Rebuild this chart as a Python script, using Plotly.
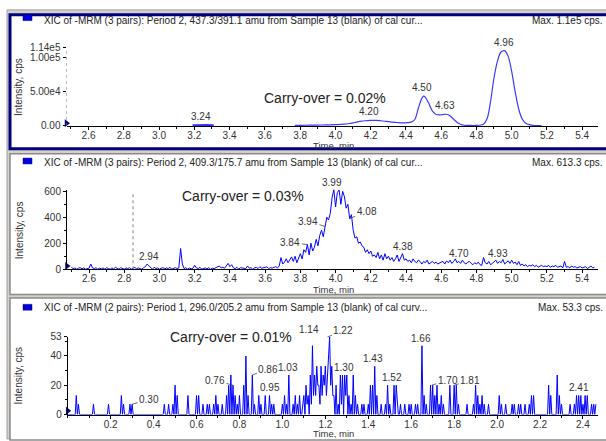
import plotly.graph_objects as go

W, H = 606, 441

# ---------------- data ----------------
# Panel 1: 437.3/391.1 (time in min, intensity in cps)
top_seg_time = [3.19, 3.22, 3.24, 3.27, 3.31]
top_seg_cps = [700, 1200, 1400, 1000, 600]
top_time = [3.77, 3.80, 3.85, 3.90, 3.95, 4.00, 4.05, 4.08, 4.11, 4.14, 4.17, 4.20, 4.23, 4.26,
            4.29, 4.32, 4.35, 4.38, 4.41, 4.43, 4.45, 4.47, 4.49, 4.50, 4.51, 4.53, 4.55, 4.57,
            4.59, 4.61, 4.63, 4.65, 4.67, 4.69, 4.71, 4.73, 4.76, 4.80, 4.84, 4.86, 4.88, 4.90,
            4.92, 4.94, 4.96, 4.98, 5.00, 5.02, 5.04, 5.06, 5.08, 5.10, 5.12, 5.15, 5.17]
top_cps = [800, 900, 1000, 1200, 1500, 1800, 2500, 3500, 5000, 6500, 7500, 8000, 8200, 7500,
           6500, 5500, 5000, 4500, 4800, 5500, 9000, 25000, 40000, 43500, 42000, 33000, 22000, 17000,
           16000, 16500, 17000, 15000, 10000, 5500, 2500, 1000, 700, 800, 2500, 10000, 35000, 70000,
           95000, 108000, 110000, 102000, 80000, 50000, 25000, 10000, 4000, 1800, 900, 500, 400]

# Panel 2: 409.3/175.7, sampled every 0.01 min from 2.50 min
mid_t0 = 2.50
mid_step = 0.01
mid_cps = [
    15, 5, 10, 0, 8, 12, 3, 10, 0, 5,
    8, 40, 10, 5, 12, 0, 8, 3, 10, 0,
    12, 5, 0, 10, 3, 15, 5, 0, 12, 8,
    0, 10, 5, 12, 0, 8, 15, 3, 10, 5,
    0, 12, 20, 40, 25, 10, 0, 15, 5, 10,
    0, 8, 12, 3, 10, 5, 15, 0, 8, 12,
    5, 10, 160, 40, 5, 12, 0, 10, 3, 8,
    30, 10, 5, 15, 0, 8, 10, 3, 12, 0,
    8, 5, 12, 20, 25, 10, 15, 8, 30, 45,
    20, 35, 10, 5, 15, 0, 12, 8, 10, 5,
    25, 8, 12, 0, 10, 15, 5, 20, 8, 12,
    10, 18, 5, 12, 8, 15, 20, 10, 25, 90,
    40, 55, 80, 50, 70, 95, 60, 100, 50, 80,
    120, 80, 150, 130, 190, 110, 200, 140, 170, 230,
    180, 260, 300, 250, 330, 400, 380, 430, 550, 613,
    480, 590, 610, 500, 600, 560, 470, 500, 390, 420,
    300, 240, 250, 200, 210, 180, 170, 130, 150, 120,
    140, 100, 110, 90, 130, 80, 110, 70, 120, 80,
    100, 70, 90, 60, 80, 110, 60, 90, 120, 70,
    80, 60, 70, 50, 80, 60, 50, 70, 60, 40,
    60, 50, 70, 40, 50, 60, 45, 55, 40, 50,
    55, 60, 40, 65, 50, 70, 45, 60, 80, 50,
    60, 45, 70, 50, 40, 55, 60, 45, 35, 50,
    40, 55, 35, 30, 90, 50, 40, 60, 35, 45,
    55, 70, 45, 60, 50, 75, 40, 55, 65, 45,
    70, 45, 55, 35, 60, 30, 40, 25, 35, 20,
    30, 25, 35, 20, 30, 15, 25, 30, 20, 25,
    20, 30, 15, 25, 20, 30, 15, 20, 25, 10,
    60, 15, 20, 10, 25, 15, 20, 10, 15, 20,
    10, 15, 20, 5, 15, 25, 10, 15,
]

# Panel 3: 296.0/205.2, sampled every 0.005 min from 0 min
bot_t0 = 0.0
bot_step = 0.005
bot_cps = [
    0, 0, 0, 0, 0, 0, 0, 0, 13, 0, 7, 0, 0, 0, 0, 0, 0, 0, 0, 0,
    0, 0, 0, 0, 7, 0, 0, 0, 0, 0, 0, 0, 0, 0, 0, 0, 0, 0, 7, 0,
    0, 0, 0, 0, 0, 0, 0, 0, 0, 0, 13, 0, 7, 0, 0, 0, 0, 0, 7, 0,
    7, 0, 0, 0, 0, 0, 0, 0, 0, 0, 0, 0, 0, 0, 0, 0, 0, 0, 0, 0,
    0, 0, 0, 0, 0, 0, 0, 0, 0, 0, 7, 0, 0, 0, 7, 0, 0, 0, 7, 0,
    20, 0, 13, 0, 0, 0, 0, 0, 0, 0, 0, 0, 13, 0, 0, 0, 0, 0, 0, 0,
    13, 0, 13, 0, 0, 0, 7, 0, 0, 0, 7, 0, 7, 0, 0, 0, 7, 0, 13, 0,
    7, 0, 0, 0, 7, 0, 0, 0, 13, 0, 20, 0, 27, 0, 20, 0, 13, 0, 7, 0,
    13, 0, 0, 0, 20, 0, 40, 0, 13, 0, 0, 0, 27, 0, 7, 0, 0, 0, 13, 0,
    7, 0, 0, 0, 13, 0, 0, 0, 13, 0, 7, 0, 7, 0, 0, 0, 0, 0, 0, 0,
    7, 0, 13, 0, 7, 0, 27, 0, 0, 0, 7, 0, 13, 0, 7, 0, 13, 0, 0, 7,
    13, 0, 20, 7, 13, 0, 27, 7, 47, 13, 27, 13, 33, 20, 20, 7, 33, 13, 27, 20,
    33, 13, 27, 40, 53, 20, 33, 13, 13, 0, 20, 0, 7, 0, 27, 7, 27, 0, 27, 13,
    27, 0, 13, 0, 7, 0, 27, 0, 13, 0, 7, 0, 0, 0, 7, 0, 7, 0, 0, 0,
    7, 0, 20, 0, 20, 0, 33, 0, 13, 0, 0, 0, 7, 0, 0, 0, 7, 0, 20, 0,
    7, 0, 0, 0, 20, 0, 20, 7, 0, 0, 7, 0, 0, 0, 7, 0, 0, 0, 7, 0,
    7, 0, 0, 0, 7, 0, 7, 0, 0, 0, 47, 0, 13, 0, 7, 0, 0, 0, 20, 0,
    20, 0, 13, 0, 20, 0, 7, 0, 13, 0, 7, 0, 0, 0, 0, 0, 20, 0, 0, 0,
    20, 0, 20, 0, 7, 0, 0, 0, 0, 0, 0, 0, 7, 0, 0, 0, 0, 0, 7, 0,
    20, 0, 13, 0, 7, 0, 13, 0, 7, 0, 0, 0, 7, 0, 0, 0, 0, 0, 0, 0,
    0, 0, 13, 0, 7, 0, 0, 0, 7, 0, 0, 0, 0, 0, 7, 0, 7, 0, 0, 0,
    7, 0, 7, 0, 0, 0, 7, 0, 0, 0, 7, 0, 13, 0, 13, 0, 0, 0, 0, 0,
    0, 0, 0, 0, 0, 0, 0, 0, 20, 0, 13, 0, 0, 0, 0, 0, 27, 0, 13, 0,
    7, 0, 0, 0, 0, 0, 0, 0, 7, 0, 0, 0, 7, 0, 13, 0, 13, 0, 13, 0,
    7, 0, 13, 0, 13, 0, 0, 0, 7, 0, 7, 0, 7,
]

# peak labels (text, time, cps)
top_labels = ["3.24", "4.20", "4.50", "4.63", "4.96"]
top_label_x = [3.24, 4.19, 4.49, 4.62, 4.955]
top_label_y = [1400, 8000, 43500, 17000, 110000]

mid_labels = ["2.94", "3.99", "4.38", "4.70", "4.93"]
mid_label_x = [2.94, 3.98, 4.38, 4.70, 4.92]
mid_label_y = [40, 613, 120, 60, 60]
mid_lead_labels = ["3.84", "3.94", "4.08"]
mid_lead_x = [3.84, 3.94, 4.08]
mid_lead_y = [190, 330, 390]

bot_labels = ["0.95", "1.03", "1.14", "1.30", "1.43", "1.52", "1.66", "2.41"]
bot_label_x = [0.94, 1.025, 1.125, 1.285, 1.42, 1.51, 1.645, 2.38]
bot_label_y = [13, 27, 53, 27, 33, 20, 47, 13]
bot_lead_labels = ["0.30", "0.76", "0.86", "1.22", "1.70", "1.81"]
bot_lead_x = [0.30, 0.77, 0.86, 1.21, 1.695, 1.80]
bot_lead_y = [7, 20, 27, 53, 20, 20]

headers = [
    "XIC of -MRM (3 pairs): Period 2, 437.3/391.1 amu from Sample 13 (blank) of cal cur...",
    "XIC of -MRM (3 pairs): Period 2, 409.3/175.7 amu from Sample 13 (blank) of cal cur...",
    "XIC of -MRM (2 pairs): Period 1, 296.0/205.2 amu from Sample 13 (blank) of cal curv...",
]
max_texts = ["Max. 1.1e5 cps.", "Max. 613.3 cps.", "Max. 53.3 cps."]
carry_texts = ["Carry-over = 0.02%", "Carry-over = 0.03%", "Carry-over = 0.01%"]

# ---------------- helpers ----------------
def px(x):
    return x / W

def py(y):
    return 1 - y / H

mid_time = [round(mid_t0 + mid_step * i, 4) for i in range(len(mid_cps))]
bot_time = [round(bot_t0 + bot_step * i, 4) for i in range(len(bot_cps))]

TXT = "#333333"
FONT = "Liberation Sans"

fig = go.Figure()
fig.add_trace(go.Scatter(x=top_seg_time, y=top_seg_cps, mode="lines",
                         line=dict(color="#3333ff", width=2.5), xaxis="x", yaxis="y", showlegend=False))
fig.add_trace(go.Scatter(x=top_time, y=top_cps, mode="lines", line_shape="spline",
                         line=dict(color="#3a3aff", width=1.2), xaxis="x", yaxis="y", showlegend=False))
fig.add_trace(go.Scatter(x=mid_time, y=mid_cps, mode="lines",
                         line=dict(color="#0000ff", width=1), xaxis="x2", yaxis="y2", showlegend=False))
fig.add_trace(go.Scatter(x=bot_time, y=bot_cps, mode="lines",
                         line=dict(color="#0000ff", width=1), xaxis="x3", yaxis="y3", showlegend=False))

# small origin markers
for xa, ya, x0, yv in [("x", "y", 2.475, 4000), ("x2", "y2", 2.475, 25), ("x3", "y3", 0.0, 2.5)]:
    fig.add_trace(go.Scatter(x=[x0], y=[yv], mode="markers", cliponaxis=False,
                             marker=dict(symbol="triangle-right", size=7, color="#000080"),
                             xaxis=xa, yaxis=ya, showlegend=False))

shapes = []
# background frame
shapes.append(dict(type="rect", xref="paper", yref="paper", x0=px(7), x1=px(610), y0=py(445), y1=py(5),
                   fillcolor="#d4d0c8", line=dict(color="#a0a0a0", width=1), layer="below"))
# panels
shapes.append(dict(type="rect", xref="paper", yref="paper", x0=px(10), x1=px(612), y0=py(147.5), y1=py(10),
                   fillcolor="white", line=dict(color="#000080", width=3), layer="below"))
shapes.append(dict(type="rect", xref="paper", yref="paper", x0=px(10), x1=px(612), y0=py(297), y1=py(152.5),
                   fillcolor="white", line=dict(color="#8a8a8a", width=1.5), layer="below"))
shapes.append(dict(type="rect", xref="paper", yref="paper", x0=px(10), x1=px(612), y0=py(446), y1=py(300.5),
                   fillcolor="white", line=dict(color="#8a8a8a", width=1.5), layer="below"))
# header blue squares
for y0 in [10, 157, 307]:
    shapes.append(dict(type="rect", xref="paper", yref="paper", x0=px(23), x1=px(32), y0=py(y0 + 6), y1=py(y0),
                       fillcolor="#0000dd", line=dict(color="#000080", width=0.5)))
# dotted y-axis in panel 1
shapes.append(dict(type="line", xref="x", yref="y", x0=2.475, x1=2.475, y0=0, y1=114000,
                   line=dict(color="#777777", width=1, dash="dot")))
# dotted marker line in panel 2
shapes.append(dict(type="line", xref="x2", yref="y2", x0=2.85, x1=2.85, y0=0, y1=600,
                   line=dict(color="#888888", width=1, dash="dot")))

ann = []
hdr_y = [16, 162, 310]
carry_pos = [(325, 95), (243, 196), (231, 341)]
title_y = [84, 231, 380]
time_y = [144, 292, 439]
for i in range(3):
    ann.append(dict(xref="paper", yref="paper", x=px(42), y=py(hdr_y[i]), text=headers[i], showarrow=False,
                    xanchor="left", yanchor="middle", font=dict(family=FONT, size=10, color="#222")))
    ann.append(dict(xref="paper", yref="paper", x=px(605), y=py(hdr_y[i]), text=max_texts[i], showarrow=False,
                    xanchor="right", yanchor="middle", font=dict(family=FONT, size=10, color="#222")))
    ann.append(dict(xref="paper", yref="paper", x=px(carry_pos[i][0]), y=py(carry_pos[i][1]), text=carry_texts[i],
                    showarrow=False, xanchor="center", yanchor="middle",
                    font=dict(family=FONT, size=14, color="#222")))
    ann.append(dict(xref="paper", yref="paper", x=px(19), y=py(title_y[i]), text="Intensity, cps", textangle=-90,
                    showarrow=False, xanchor="center", yanchor="middle", font=dict(family=FONT, size=10, color=TXT)))
    ann.append(dict(xref="paper", yref="paper", x=px(333), y=py(time_y[i]), text="Time, min",
                    showarrow=False, xanchor="center", yanchor="middle", font=dict(family=FONT, size=9.5, color=TXT)))

lab_font = dict(family=FONT, size=10, color=TXT)
for t, x, y in zip(top_labels, top_label_x, top_label_y):
    ann.append(dict(xref="x", yref="y", x=x, y=y, text=t, showarrow=False, yanchor="bottom", yshift=1, font=lab_font))
for t, x, y in zip(mid_labels, mid_label_x, mid_label_y):
    ann.append(dict(xref="x2", yref="y2", x=x, y=y, text=t, showarrow=False, yanchor="bottom", yshift=0, font=lab_font))
for t, x, y in zip(bot_labels, bot_label_x, bot_label_y):
    ann.append(dict(xref="x3", yref="y3", x=x, y=y, text=t, showarrow=False, yanchor="bottom", yshift=0, font=lab_font))

mid_offsets = [(-17, -2), (-17, -5), (17, -7)]
for (t, x, y), (ax, ay) in zip(zip(mid_lead_labels, mid_lead_x, mid_lead_y), mid_offsets):
    ann.append(dict(xref="x2", yref="y2", x=x, y=y, text=t, showarrow=True, arrowhead=0, arrowwidth=0.8,
                    arrowcolor="#444", ax=ax, ay=ay, standoff=0, font=lab_font))
bot_offsets = [(17, -5), (-18, -5), (16, -6), (16, -6), (16, -5), (16, -5)]
for (t, x, y), (ax, ay) in zip(zip(bot_lead_labels, bot_lead_x, bot_lead_y), bot_offsets):
    ann.append(dict(xref="x3", yref="y3", x=x, y=y, text=t, showarrow=True, arrowhead=0, arrowwidth=0.8,
                    arrowcolor="#444", ax=ax, ay=ay, standoff=0, font=lab_font))

tickfont = dict(family=FONT, size=10, color=TXT)
xcommon = dict(showline=True, linecolor="black", linewidth=1, ticks="outside", ticklen=3, tickcolor="black",
               showgrid=False, zeroline=False, tickfont=tickfont, fixedrange=True, tickformat=".1f",
               ticklabelstandoff=-3,
               minor=dict(ticks="outside", ticklen=2, tickcolor="black", dtick=0.1, showgrid=False))
ycommon = dict(ticks="outside", ticklen=3, tickcolor="black", showgrid=False, zeroline=False,
               tickfont=tickfont, fixedrange=True)

xtv_top = [2.6, 2.8, 3.0, 3.2, 3.4, 3.6, 3.8, 4.0, 4.2, 4.4, 4.6, 4.8, 5.0, 5.2, 5.4]
xtv_bot = [0.2, 0.4, 0.6, 0.8, 1.0, 1.2, 1.4, 1.6, 1.8, 2.0, 2.2, 2.4]

fig.update_layout(
    width=W, height=H, margin=dict(l=0, r=0, t=0, b=0),
    paper_bgcolor="white", plot_bgcolor="rgba(0,0,0,0)",
    shapes=shapes, annotations=ann,
    xaxis=dict(domain=[px(66.5), px(598)], range=[2.475, 5.49], anchor="y", tickvals=xtv_top, **xcommon),
    yaxis=dict(domain=[py(124), py(44)], range=[0, 114000], anchor="x", showline=False,
               tickvals=[0, 50000, 100000, 114000], ticktext=["0.00", "5.00e4", "1.00e5", "1.14e5"], **ycommon),
    xaxis2=dict(domain=[px(67), px(598)], range=[2.475, 5.49], anchor="y2", tickvals=xtv_top, **xcommon),
    yaxis2=dict(domain=[py(271), py(189.3)], range=[0, 613.3], anchor="x2", showline=True, linecolor="black",
                linewidth=1, tickvals=[0, 200, 400, 600],
                minor=dict(ticks="outside", ticklen=2, tickcolor="black", dtick=100), **ycommon),
    xaxis3=dict(domain=[px(67.7), px(598)], range=[0, 2.47], anchor="y3", tickvals=xtv_bot, **xcommon),
    yaxis3=dict(domain=[py(420), py(340)], range=[0, 53.3], anchor="x3", showline=True, linecolor="black",
                linewidth=1, tickvals=[0, 20, 40, 53],
                minor=dict(ticks="outside", ticklen=2, tickcolor="black", dtick=10), **ycommon),
)

fig.write_html("out.html")
